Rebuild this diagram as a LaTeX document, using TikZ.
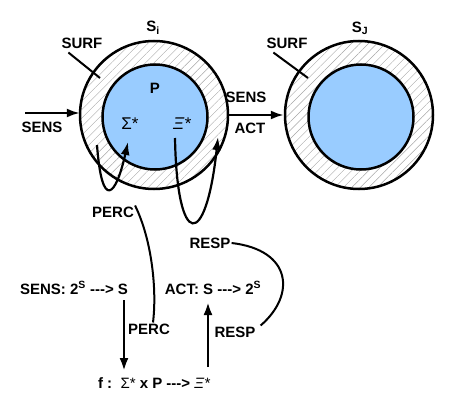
\documentclass[tikz,border=0pt]{standalone}
\usepackage{fontspec}
\setmainfont{Liberation Sans}
\usetikzlibrary{positioning, arrows.meta, patterns.meta}
\definecolor{lightblue}{RGB}{153,204,255}
\tikzstyle{surf}=[%
      circle, draw=black, line width=2.5pt, inner sep=0pt, minimum size=148pt,
      pattern={Lines[angle=45, distance=6pt, line width=0.4pt]}, pattern color=gray!70
]
\tikzstyle{proc}=[%
      circle, draw=black, line width=2.5pt, fill=lightblue, inner sep=0pt, minimum size=105pt
]
\tikzstyle{lbl}=[%
      font=\fontsize{15}{17}\selectfont\bfseries, inner sep=1pt
]
\tikzstyle{greek}=[%
      font=\fontsize{17}{19}\selectfont, inner sep=1pt
]

\begin{document}
\begin{tikzpicture}[x=1pt, y=-1pt,
    arr/.style={-{Latex[length=13pt,width=9pt]}, line width=2.2pt},
    wire/.style={line width=2pt}
  ]
    \useasboundingbox (0,0) rectangle (458,412);
    % the two systems
    \node[surf] (si) at (154,115) {};
    \node[proc] (pi) at (155,117) {};
    \node[surf] (sj) at (359,115) {};
    \node[proc] (pj) at (361,117) {};

    \node[lbl]   (sil)   at (153,28)  {S\textsubscript{i}};
    \node[lbl]   (sjl)   at (360,28)  {S\textsubscript{J}};
    \node[lbl]   (surfi) at (82,43)   {SURF};
    \node[lbl]   (surfj) at (287,43)  {SURF};
    \node[lbl]   (plbl)  at (155,88)  {P};
    \node[greek] (sig)   at (130,124) {Σ*};
    \node[greek] (xi)    at (182,124) {\itshape Ξ*};
    \node[lbl]   (sensl) at (42,127)  {SENS};
    \node[lbl]   (sensm) at (246,97)  {SENS};
    \node[lbl]   (actm)  at (250,128) {ACT};

    \coordinate (ringi)  at (100,78);
    \coordinate (ringj)  at (308,78);
    \coordinate (sensin) at (25,113);
    \coordinate (loopa)  at (97,145);
    \coordinate (sigin)  at (128,142);
    \coordinate (xiout)  at (175,138);
    \coordinate (ringin) at (218,137);

    \draw[wire] ([xshift=8pt,yshift=-3pt]surfi.south west) -- (ringi);
    \draw[wire] ([xshift=8pt,yshift=-3pt]surfj.south west) -- (ringj);
    \draw[arr] (sensin) -- (sensin -| si.west);
    \draw[arr] (si.east) -- (sj.west);
    \draw[arr] (loopa) .. controls (102,212) and (116,196) .. (sigin);
    \draw[arr] (xiout) .. controls (177,250) and (206,250) .. (ringin);

    % the functions
    \node[lbl] (perca)   at (113,212) {PERC};
    \node[lbl] (respa)   at (210,243) {RESP};
    \node[lbl] (sensdef) at (74,288)  {SENS: 2\textsuperscript{S} -{}-{}-> S};
    \node[lbl] (actdef)  at (213,288) {ACT: S -{}-{}-> 2\textsuperscript{S}};
    \node[lbl] (percb)   at (149,329) {PERC};
    \node[lbl] (respb)   at (235,332) {RESP};
    \node[lbl] (fdef)    at (154,383) {f :\ \ {\mdseries Σ*} x P -{}-{}-> {\mdseries\itshape Ξ*}};

    \coordinate (perctop) at (124,300);
    \coordinate (percbot) at (124,371);
    \coordinate (respbot) at (208,367);
    \coordinate (resptop) at (208,302);

    \draw[arr, line width=2.8pt] (perctop) -- (percbot);
    \draw[arr, line width=2.8pt] (respbot) -- (resptop);
    \draw[wire] (perca.north east) .. controls (152,240) and (157,290) .. ([xshift=4pt]percb.north);
    \draw[wire] (respa.east) .. controls (292,250) and (296,295) .. ([xshift=4pt]respb.north east);
  \end{tikzpicture}
\end{document}
